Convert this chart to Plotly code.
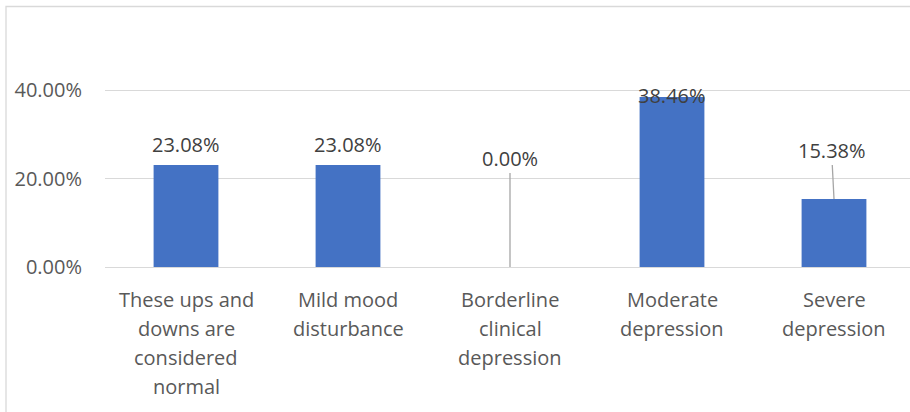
import plotly.graph_objects as go

# Share of respondents in each mood category
categories = [
    ["These ups and", "downs are", "considered", "normal"],
    ["Mild mood", "disturbance"],
    ["Borderline", "clinical", "depression"],
    ["Moderate", "depression"],
    ["Severe", "depression"],
]
shares = [0.2308, 0.2308, 0.0, 0.3846, 0.1538]
y_ticks = [0.0, 0.2, 0.4]
y_tick_text = ["0.00%", "20.00%", "40.00%"]

BAR = "#4472C4"
GRID = "#D9D9D9"
TEXT = "#595959"
LABEL = "#404040"
FONT = "Open Sans"
SIZE = 20

W, H = 910, 412
L, R, T, B = 105, 0, 46, 145

fig = go.Figure(
    go.Bar(
        x=list(range(len(categories))),
        y=shares,
        marker=dict(color=BAR, line=dict(width=0)),
        width=0.4,
        hoverinfo="skip",
    )
)

# Value labels: most sit above their bar; two use a leader line back to the bar
label_offsets = [
    dict(yshift=5),
    dict(yshift=5),
    dict(ax=0, ay=-109),
    dict(yshift=-14),
    dict(ax=-2.5, ay=-49),
]
for i, (v, off) in enumerate(zip(shares, label_offsets)):
    ann = dict(
        x=i, y=v, xref="x", yref="y",
        text=f"{v * 100:.2f}%",
        font=dict(family=FONT, size=SIZE, color=LABEL),
    )
    if "ay" in off:
        ann.update(
            showarrow=True, arrowhead=0, arrowwidth=1.3, arrowcolor="#A6A6A6",
            ax=off["ax"], ay=off["ay"], axref="pixel", ayref="pixel",
            standoff=0, startstandoff=0,
        )
    else:
        ann.update(showarrow=False, yanchor="bottom", yshift=off["yshift"])
    fig.add_annotation(**ann)

# Category labels, one line per annotation for wider line spacing
LINE_GAP = 29
for i, lines in enumerate(categories):
    for k, line in enumerate(lines):
        fig.add_annotation(
            x=i, y=0, xref="x", yref="paper",
            text=line, showarrow=False,
            yanchor="middle", yshift=-(32 + LINE_GAP * k),
            font=dict(family=FONT, size=SIZE, color=TEXT),
        )

# Chart-area frame (left and top edges fall inside the page)
pw, ph = W - L - R, H - T - B
fig.add_shape(
    type="rect", xref="paper", yref="paper",
    x0=(6 - L) / pw, x1=(W + 20 - L) / pw,
    y0=-(H + 20 - T - ph) / ph, y1=(T - 6.5) / ph + 1,
    line=dict(color=GRID, width=1.3), fillcolor="rgba(0,0,0,0)",
    layer="below",
)

fig.update_layout(
    width=W, height=H,
    margin=dict(l=L, r=R, t=T, b=B, pad=0),
    paper_bgcolor="white", plot_bgcolor="white",
    showlegend=False,
    font=dict(family=FONT, size=SIZE, color=TEXT),
    xaxis=dict(
        range=[-0.5, (W - L - R) / 162 - 0.5],
        showticklabels=False,
        showgrid=False, zeroline=False,
        showline=True, linecolor=GRID, linewidth=1.3,
        ticks="",
    ),
    yaxis=dict(
        range=[0, 0.5],
        tickmode="array", tickvals=y_ticks, ticktext=y_tick_text,
        showgrid=True, gridcolor=GRID, gridwidth=1.3,
        zeroline=False, showline=False, ticks="",
        ticklabelstandoff=22,
        tickfont=dict(family=FONT, size=SIZE, color=TEXT),
    ),
)

fig.write_html("out.html")
